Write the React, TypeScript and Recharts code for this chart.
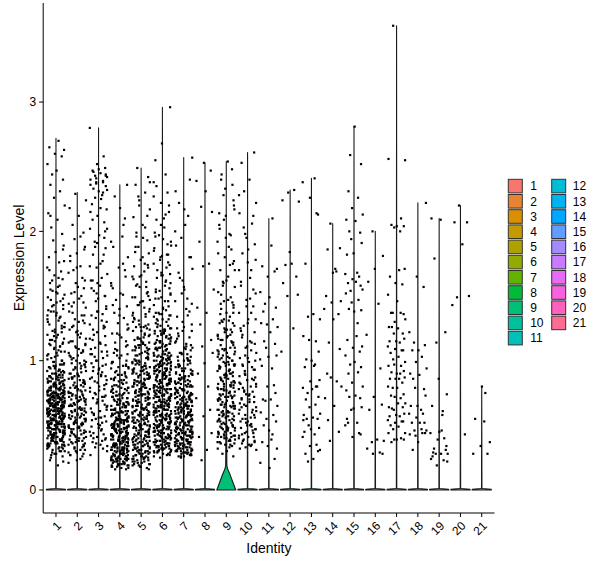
import { Legend, Scatter, ScatterChart, XAxis, YAxis } from "recharts"

// identities shown on the x axis
const GROUPS = ["1", "2", "3", "4", "5", "6", "7", "8", "9", "10", "11", "12", "13", "14", "15", "16", "17", "18", "19", "20", "21"]

const COLORS = [
  "#F8766D", "#EA8331", "#DA8F00", "#C59900", "#ADA200", "#93AA00", "#62B200",
  "#00BA38", "#00BF76", "#00C19C", "#00C0B8", "#00BCD6", "#00B4EF", "#00A6FF",
  "#619CFF", "#A58AFF", "#C77CFF", "#E76BF3", "#F862DF", "#FF62BE", "#FF6C93",
]

// top of each violin (highest expression in the group)
const MAX_VALUES = [2.72, 2.30, 2.80, 2.36, 2.49, 2.96, 2.57, 2.53, 2.54, 2.61, 2.10, 2.32, 2.41, 2.06, 2.81, 2.00, 3.59, 2.22, 2.10, 2.20, 0.80]

const Y_TICKS = [0, 1, 2, 3]

// violin outline: [value, half width] -- every group has its spike at zero
const VIOLIN_FLAT = [[0, 0.45], [0.006, 0.45], [0.012, 0.01]]
// group 9 has a visible cone at the bottom
const VIOLIN_9 = [
  [0, 0.445], [0.031, 0.376], [0.062, 0.305], [0.093, 0.235], [0.124, 0.165],
  [0.155, 0.085], [0.17, 0.05], [0.19, 0.028], [0.3, 0.022], [0.5, 0.018],
  [0.67, 0.012], [1.0, 0.006], [1.5, 0.003],
]

// expression values of the cells above zero, per identity (spread of the tail)
const G1 = [2.70, 2.65, 2.63, 2.60, 2.58, 2.52, 2.47, 2.44, 2.40, 2.36, 2.31, 2.26, 2.20, 2.14, 2.09, 2.03, 1.98, 1.93, 1.89, 1.84, 1.80, 1.76, 1.72, 1.69, 1.66, 1.63, 1.60, 1.57, 1.54, 1.51, 1.49, 1.46, 1.43, 1.40, 1.38, 1.35, 1.33, 1.31, 1.28, 1.26, 1.24, 1.22, 1.20, 1.18, 1.16, 1.14, 1.12, 1.11, 1.09, 1.07, 1.05, 1.04, 1.02, 1.00, 0.99, 0.97, 0.96, 0.95, 0.93, 0.92, 0.91, 0.90, 0.89, 0.88, 0.87, 0.86, 0.85, 0.84, 0.83, 0.82, 0.81, 0.80, 0.79, 0.79, 0.78, 0.77, 0.76, 0.75, 0.75, 0.74, 0.73, 0.72, 0.72, 0.71, 0.70, 0.69, 0.69, 0.68, 0.67, 0.67, 0.66, 0.65, 0.65, 0.64, 0.63, 0.63, 0.62, 0.61, 0.61, 0.60, 0.59, 0.59, 0.58, 0.57, 0.57, 0.56, 0.55, 0.55, 0.54, 0.53, 0.53, 0.52, 0.51, 0.51, 0.50, 0.49, 0.48, 0.48, 0.47, 0.46, 0.45, 0.45, 0.44, 0.43, 0.42, 0.41, 0.40, 0.39, 0.38, 0.37, 0.36, 0.35, 0.33, 0.32, 0.30, 0.28, 0.26, 0.23, 0.19]
const G2 = [2.29, 2.24, 2.18, 2.12, 2.05, 1.99, 1.94, 1.88, 1.83, 1.77, 1.73, 1.68, 1.64, 1.60, 1.56, 1.52, 1.48, 1.45, 1.41, 1.38, 1.35, 1.32, 1.29, 1.26, 1.23, 1.21, 1.18, 1.15, 1.13, 1.10, 1.08, 1.06, 1.04, 1.02, 1.00, 0.98, 0.96, 0.94, 0.92, 0.90, 0.88, 0.87, 0.85, 0.83, 0.82, 0.80, 0.79, 0.77, 0.76, 0.74, 0.73, 0.71, 0.70, 0.69, 0.67, 0.66, 0.65, 0.63, 0.62, 0.61, 0.60, 0.58, 0.57, 0.56, 0.55, 0.53, 0.52, 0.51, 0.50, 0.48, 0.47, 0.46, 0.45, 0.43, 0.42, 0.41, 0.39, 0.38, 0.36, 0.35, 0.33, 0.31, 0.29, 0.27, 0.24, 0.21]
const G3 = [2.80, 2.58, 2.52, 2.49, 2.47, 2.45, 2.43, 2.42, 2.40, 2.38, 2.37, 2.35, 2.33, 2.31, 2.28, 2.25, 2.21, 2.17, 2.12, 2.07, 2.02, 1.97, 1.92, 1.87, 1.82, 1.77, 1.72, 1.67, 1.62, 1.58, 1.54, 1.50, 1.46, 1.42, 1.38, 1.35, 1.31, 1.28, 1.25, 1.22, 1.19, 1.16, 1.13, 1.10, 1.07, 1.05, 1.02, 1.00, 0.97, 0.95, 0.93, 0.91, 0.89, 0.87, 0.85, 0.83, 0.81, 0.79, 0.77, 0.75, 0.73, 0.71, 0.69, 0.67, 0.65, 0.63, 0.61, 0.59, 0.57, 0.55, 0.53, 0.51, 0.49, 0.47, 0.45, 0.43, 0.41, 0.39, 0.37, 0.35, 0.33, 0.30, 0.27]
const G4 = [2.36, 2.27, 2.18, 2.05, 1.96, 1.88, 1.80, 1.72, 1.65, 1.58, 1.52, 1.47, 1.42, 1.37, 1.33, 1.29, 1.25, 1.21, 1.18, 1.14, 1.11, 1.08, 1.05, 1.02, 0.99, 0.96, 0.94, 0.91, 0.89, 0.87, 0.85, 0.83, 0.81, 0.79, 0.77, 0.75, 0.73, 0.71, 0.69, 0.67, 0.66, 0.64, 0.62, 0.61, 0.59, 0.58, 0.57, 0.55, 0.54, 0.53, 0.52, 0.51, 0.50, 0.49, 0.48, 0.47, 0.46, 0.45, 0.44, 0.43, 0.42, 0.41, 0.40, 0.39, 0.39, 0.38, 0.37, 0.36, 0.36, 0.35, 0.34, 0.33, 0.33, 0.32, 0.31, 0.30, 0.30, 0.29, 0.28, 0.28, 0.27, 0.26, 0.26, 0.25, 0.24, 0.24, 0.23, 0.22, 0.21, 0.20, 0.19, 0.18, 0.17, 0.16]
const G5 = [2.49, 2.42, 2.36, 2.30, 2.24, 2.17, 2.11, 2.05, 1.99, 1.93, 1.88, 1.83, 1.78, 1.73, 1.69, 1.65, 1.61, 1.57, 1.53, 1.49, 1.46, 1.43, 1.40, 1.37, 1.34, 1.31, 1.28, 1.26, 1.23, 1.21, 1.18, 1.16, 1.14, 1.12, 1.10, 1.08, 1.06, 1.04, 1.02, 1.00, 0.98, 0.97, 0.95, 0.93, 0.92, 0.90, 0.89, 0.87, 0.86, 0.84, 0.83, 0.82, 0.80, 0.79, 0.78, 0.76, 0.75, 0.74, 0.73, 0.71, 0.70, 0.69, 0.68, 0.67, 0.65, 0.64, 0.63, 0.62, 0.61, 0.60, 0.59, 0.57, 0.56, 0.55, 0.54, 0.53, 0.52, 0.51, 0.50, 0.49, 0.48, 0.47, 0.46, 0.45, 0.44, 0.43, 0.42, 0.41, 0.40, 0.39, 0.38, 0.37, 0.36, 0.35, 0.34, 0.33, 0.32, 0.31, 0.30, 0.29, 0.28, 0.27, 0.26, 0.25, 0.24, 0.22, 0.20, 0.18]
const G6 = [2.96, 2.68, 2.55, 2.44, 2.38, 2.30, 2.22, 2.15, 2.09, 2.03, 1.97, 1.92, 1.87, 1.82, 1.78, 1.74, 1.70, 1.66, 1.62, 1.58, 1.55, 1.52, 1.49, 1.46, 1.43, 1.40, 1.37, 1.35, 1.32, 1.30, 1.27, 1.25, 1.23, 1.21, 1.19, 1.17, 1.15, 1.13, 1.11, 1.09, 1.08, 1.06, 1.04, 1.03, 1.01, 1.00, 0.98, 0.97, 0.96, 0.94, 0.93, 0.92, 0.91, 0.89, 0.88, 0.87, 0.86, 0.85, 0.84, 0.83, 0.82, 0.81, 0.80, 0.79, 0.78, 0.77, 0.76, 0.75, 0.74, 0.73, 0.73, 0.72, 0.71, 0.70, 0.69, 0.68, 0.68, 0.67, 0.66, 0.65, 0.64, 0.64, 0.63, 0.62, 0.61, 0.61, 0.60, 0.59, 0.58, 0.58, 0.57, 0.56, 0.55, 0.55, 0.54, 0.53, 0.52, 0.52, 0.51, 0.50, 0.49, 0.49, 0.48, 0.47, 0.46, 0.46, 0.45, 0.44, 0.43, 0.42, 0.42, 0.41, 0.40, 0.39, 0.38, 0.37, 0.36, 0.35, 0.34, 0.33, 0.32, 0.31, 0.30, 0.29, 0.27, 0.25]
const G7 = [2.57, 2.31, 2.12, 1.95, 1.80, 1.68, 1.57, 1.48, 1.40, 1.34, 1.28, 1.23, 1.18, 1.14, 1.10, 1.06, 1.03, 1.00, 0.97, 0.94, 0.92, 0.90, 0.88, 0.86, 0.84, 0.82, 0.80, 0.78, 0.77, 0.75, 0.74, 0.72, 0.71, 0.70, 0.68, 0.67, 0.66, 0.65, 0.64, 0.63, 0.62, 0.61, 0.60, 0.59, 0.58, 0.57, 0.56, 0.55, 0.54, 0.53, 0.52, 0.51, 0.50, 0.49, 0.48, 0.47, 0.46, 0.45, 0.45, 0.44, 0.43, 0.42, 0.41, 0.40, 0.40, 0.39, 0.38, 0.37, 0.36, 0.36, 0.35, 0.34, 0.33, 0.32, 0.31, 0.30, 0.29, 0.28, 0.27, 0.26]
const G8 = [2.53, 2.47, 2.39, 2.31, 2.19, 2.15, 1.92, 1.75, 1.73, 1.55, 1.41, 1.37, 1.28, 1.16, 1.11, 1.06, 0.98, 0.90, 0.80, 0.71, 0.62, 0.57, 0.44, 0.41, 0.31, 0.23]
const G9 = [2.54, 2.44, 2.36, 2.28, 2.20, 2.12, 2.05, 1.98, 1.92, 1.86, 1.80, 1.75, 1.70, 1.65, 1.61, 1.57, 1.53, 1.49, 1.46, 1.43, 1.40, 1.37, 1.34, 1.31, 1.29, 1.27, 1.24, 1.22, 1.20, 1.18, 1.16, 1.14, 1.12, 1.10, 1.08, 1.07, 1.05, 1.03, 1.02, 1.00, 0.99, 0.97, 0.96, 0.94, 0.93, 0.92, 0.90, 0.89, 0.88, 0.87, 0.86, 0.84, 0.83, 0.82, 0.81, 0.80, 0.79, 0.78, 0.77, 0.76, 0.75, 0.74, 0.73, 0.72, 0.71, 0.70, 0.69, 0.68, 0.67, 0.66, 0.65, 0.64, 0.63, 0.62, 0.61, 0.60, 0.59, 0.58, 0.57, 0.56, 0.55, 0.54, 0.53, 0.52, 0.51, 0.50, 0.49, 0.48, 0.47, 0.46, 0.45, 0.44, 0.43, 0.42, 0.41, 0.40, 0.39, 0.38, 0.37, 0.36, 0.35, 0.34, 0.32, 0.30, 0.28, 0.26]
const G10 = [2.61, 2.53, 2.40, 2.31, 2.22, 2.14, 2.06, 1.98, 1.90, 1.83, 1.76, 1.70, 1.64, 1.58, 1.52, 1.47, 1.42, 1.37, 1.32, 1.27, 1.22, 1.18, 1.14, 1.10, 1.06, 1.02, 0.99, 0.96, 0.93, 0.90, 0.87, 0.85, 0.82, 0.80, 0.78, 0.76, 0.74, 0.72, 0.70, 0.68, 0.66, 0.64, 0.62, 0.60, 0.58, 0.56, 0.55, 0.53, 0.51, 0.50, 0.48, 0.47, 0.45, 0.44, 0.42, 0.41, 0.39, 0.38, 0.36, 0.35, 0.33, 0.31]
const G11 = [2.10, 1.89, 1.73, 1.71, 1.65, 1.69, 1.53, 1.49, 1.44, 1.41, 1.38, 1.32, 1.28, 1.26, 1.29, 1.22, 1.15, 1.13, 1.10, 1.04, 1.03, 0.96, 0.94, 1.01, 0.81, 0.80, 0.75, 0.70, 0.70, 0.69, 0.65, 0.60, 0.58, 0.55, 0.53, 0.50, 0.46, 0.43, 0.39, 0.37, 0.32, 0.34, 0.24, 0.21, 0.17]
const G12 = [2.32, 2.30, 2.23, 2.24, 1.75, 1.74, 1.65, 1.50, 1.51, 1.84, 1.60, 1.25, 1.07]
const G13 = [2.41, 2.38, 2.14, 2.26, 2.13, 1.75, 1.36, 1.34, 1.32, 1.19, 1.15, 1.16, 1.07, 1.01, 1.00, 0.97, 0.96, 0.95, 0.85, 0.84, 0.80, 0.79, 0.78, 0.75, 0.72, 0.70, 0.66, 0.64, 0.59, 0.58, 0.56, 0.55, 0.55, 0.50, 0.48, 0.47, 0.45, 0.43, 0.41, 0.35, 0.34, 0.30, 0.28, 0.24, 0.22, 0.31, 0.54, 0.80]
const G14 = [2.06, 1.87, 1.86, 1.68, 1.69, 1.71, 1.50, 1.46, 1.45, 1.36, 1.40, 1.32, 1.14, 1.09, 0.90, 0.84, 0.87, 0.80, 0.71, 0.65, 0.54, 0.45, 0.38]
const G15 = [2.81, 2.59, 2.52, 2.31, 2.26, 2.18, 2.13, 2.09, 2.08, 2.00, 1.99, 1.94, 1.91, 1.83, 1.82, 1.68, 1.67, 1.65, 1.63, 1.58, 1.60, 1.61, 1.54, 1.55, 1.52, 1.47, 1.45, 1.39, 1.40, 1.38, 1.29, 1.19, 1.16, 1.11, 1.10, 1.07, 1.04, 0.99, 0.97, 0.95, 0.90, 0.91, 0.83, 0.80, 0.77, 0.73, 0.72, 0.71, 0.62, 0.64, 0.63, 0.55, 0.52, 0.50, 0.44, 0.41, 0.43, 0.52]
const G16 = [2.00, 1.81, 1.71, 1.61, 1.44, 1.20, 0.94, 0.72, 0.66, 0.62, 0.39, 0.37, 0.38, 0.32, 0.29, 0.28, 0.28]
const G17 = [3.59, 2.55, 2.56, 2.10, 2.03, 2.04, 2.05, 2.04, 2.00, 1.70, 1.65, 1.71, 1.60, 1.59, 1.51, 1.46, 1.37, 1.36, 1.37, 1.37, 1.30, 1.32, 1.26, 1.25, 1.26, 1.21, 1.21, 1.17, 1.15, 1.15, 1.14, 1.11, 1.08, 1.09, 1.08, 1.06, 1.03, 1.01, 0.99, 0.96, 0.96, 0.97, 0.92, 0.91, 0.90, 0.90, 0.86, 0.86, 0.87, 0.86, 0.83, 0.80, 0.79, 0.79, 0.74, 0.73, 0.71, 0.72, 0.67, 0.64, 0.67, 0.63, 0.64, 0.62, 0.59, 0.58, 0.57, 0.57, 0.54, 0.53, 0.52, 0.53, 0.50, 0.49, 0.47, 0.44, 0.44, 0.40, 0.39, 0.39, 0.37, 0.39]
const G18 = [2.22, 1.65, 1.57, 1.22, 1.08, 1.14, 1.12, 1.08, 1.03, 0.99, 0.94, 0.90, 0.89, 0.86, 0.78, 0.79, 0.73, 0.65, 0.65, 0.62, 0.59, 0.59, 0.56, 0.52, 0.52, 0.52, 0.46, 0.46, 0.43, 0.44, 0.42, 0.44, 0.31, 0.37, 0.47]
const G19 = [2.10, 2.09, 1.79, 1.22, 1.14, 0.74, 0.86, 0.65, 0.58, 0.44, 0.40, 0.39, 0.31, 0.29, 0.28, 0.28, 0.28, 0.24, 0.23, 0.19, 0.34, 0.32, 0.45, 0.61, 0.46, 0.26, 0.22]
const G20 = [2.20, 2.07, 2.07, 1.90, 1.49, 1.50, 1.43, 0.43]
const G21 = [0.80, 0.75, 0.53, 0.55, 0.37, 0.34, 0.28, 0.28]

// the dense cores of the big identities
const G1_CORE = [0.31, 0.34, 0.36, 0.38, 0.40, 0.42, 0.43, 0.44, 0.46, 0.47, 0.48, 0.49, 0.50, 0.51, 0.52, 0.53, 0.54, 0.55, 0.56, 0.57, 0.58, 0.59, 0.60, 0.61, 0.62, 0.63, 0.64, 0.65, 0.66, 0.67, 0.68, 0.69, 0.70, 0.71, 0.72, 0.73, 0.74, 0.75, 0.76, 0.77, 0.78, 0.80, 0.82, 0.84, 0.86, 0.89, 0.92, 0.95, 0.98, 1.03, 0.33, 0.35, 0.37, 0.39, 0.41, 0.43, 0.45, 0.47, 0.48, 0.50, 0.51, 0.52, 0.54, 0.55, 0.56, 0.58, 0.59, 0.60, 0.62, 0.63, 0.64, 0.66, 0.67, 0.68, 0.70, 0.71, 0.73, 0.74, 0.76, 0.77, 0.79, 0.81, 0.83, 0.85, 0.88, 0.91, 0.94, 0.97, 1.01, 1.06, 0.29, 0.32, 0.36, 0.39, 0.42, 0.44, 0.46, 0.49, 0.51, 0.53, 0.55, 0.57, 0.58, 0.60, 0.61, 0.63, 0.65, 0.66, 0.68, 0.69, 0.71, 0.72, 0.74, 0.76, 0.78, 0.81, 0.84, 0.87, 0.90, 0.93, 1.08, 1.13, 1.17, 1.22, 1.27, 1.32, 1.37, 1.42, 1.48, 1.55, 1.11, 1.19, 1.29, 1.39, 1.52, 0.27, 0.35, 0.41, 0.45, 0.50, 0.53, 0.56, 0.59, 0.62, 0.65, 0.68, 0.70, 0.73, 0.75, 0.79, 0.83, 0.87, 0.96]
const G1_CORE2 = [0.22, 0.25, 0.28, 0.30, 0.32, 0.34, 0.35, 0.37, 0.38, 0.40, 0.41, 0.42, 0.44, 0.45, 0.46, 0.47, 0.49, 0.50, 0.51, 0.52, 0.53, 0.54, 0.56, 0.57, 0.58, 0.59, 0.60, 0.61, 0.62, 0.64, 0.65, 0.66, 0.67, 0.68, 0.69, 0.70, 0.72, 0.73, 0.74, 0.75, 0.77, 0.78, 0.79, 0.81, 0.82, 0.84, 0.86, 0.88, 0.90, 0.92, 0.94, 0.97, 0.99, 0.30, 0.33, 0.36, 0.38, 0.40, 0.43, 0.45, 0.47, 0.49, 0.51, 0.53, 0.55, 0.57, 0.59, 0.61, 0.63, 0.65, 0.67, 0.69, 0.71, 0.73, 0.75, 0.77, 0.79, 0.82, 0.85, 0.88, 0.91, 0.95, 1.00, 0.34, 0.37, 0.41, 0.44, 0.48, 0.51, 0.54, 0.57, 0.60, 0.63, 0.66, 0.70, 0.73, 0.77, 0.80, 0.84, 0.89, 1.04, 1.07, 1.10, 1.13, 1.16, 1.20, 1.23, 1.26, 1.30, 1.34, 1.38, 1.43, 1.47, 1.53, 1.58, 1.64, 1.70, 1.77, 1.15, 1.25, 1.35, 1.45, 1.62, 1.86, 2.12, 0.39, 0.43, 0.46, 0.50, 0.52, 0.55, 0.58, 0.61, 0.64, 0.67, 0.70, 0.72, 0.76, 0.80, 0.83, 0.87]
const G2_CORE = [0.26, 0.30, 0.34, 0.37, 0.40, 0.43, 0.45, 0.48, 0.50, 0.53, 0.55, 0.57, 0.59, 0.62, 0.64, 0.66, 0.68, 0.71, 0.73, 0.75, 0.78, 0.81, 0.84, 0.87, 0.91, 0.95, 0.99, 1.04, 1.09, 1.15, 0.28, 0.32, 0.36, 0.39, 0.42, 0.46, 0.49, 0.52, 0.54, 0.58, 0.61, 0.63, 0.67, 0.70, 0.72, 0.76, 0.79, 0.83, 0.86, 0.90, 0.94, 0.98, 1.03, 1.12, 1.22, 1.31, 1.44, 1.57, 1.70, 1.86, 0.44, 0.51, 0.56, 0.60, 0.65, 0.69, 0.74, 0.80, 0.88, 0.97]
const G2_CORE2 = [0.23, 0.27, 0.31, 0.35, 0.38, 0.41, 0.44, 0.47, 0.49, 0.52, 0.54, 0.56, 0.59, 0.61, 0.63, 0.65, 0.68, 0.70, 0.72, 0.75, 0.77, 0.80, 0.83, 0.86, 0.89, 0.93, 0.97, 1.01, 1.06, 1.11, 1.17, 1.24, 1.30, 1.37, 1.45, 1.53, 1.62, 1.72, 1.81, 1.96, 0.29, 0.33, 0.37, 0.40, 0.45, 0.48, 0.51, 0.55, 0.58, 0.62, 0.66, 0.69, 0.73, 0.77, 0.81, 0.85, 0.90, 0.95, 1.00, 1.07, 1.14, 1.20, 1.27, 1.35, 1.42, 1.50]
const G3_CORE = [0.32, 0.36, 0.40, 0.44, 0.48, 0.52, 0.56, 0.60, 0.64, 0.68, 0.72, 0.76, 0.80, 0.84, 0.88, 0.92, 0.96, 1.00, 1.04, 1.09, 1.14, 1.20, 1.26, 1.33, 1.40, 1.48, 1.56, 1.64, 1.73, 1.82, 1.91, 2.00, 2.09, 2.18, 2.26, 2.32, 2.36, 2.39, 2.41, 2.44, 2.46, 2.48, 0.38, 0.46, 0.54, 0.62, 0.70, 0.78, 0.86, 0.94, 1.03, 1.12, 1.24, 1.36, 1.52]
const G3_CORE2 = [0.34, 0.42, 0.50, 0.58, 0.66, 0.74, 0.82, 0.90, 0.98, 1.07, 1.17, 1.27, 1.38, 1.50, 1.62, 1.75, 1.88, 2.02, 2.15, 2.30, 2.38, 2.43, 0.40, 0.56, 0.72, 0.88, 1.05, 1.30, 1.60, 1.95]
const G4_CORE = [0.16, 0.18, 0.19, 0.20, 0.21, 0.22, 0.23, 0.24, 0.25, 0.26, 0.27, 0.28, 0.29, 0.30, 0.31, 0.32, 0.33, 0.34, 0.35, 0.36, 0.37, 0.38, 0.39, 0.40, 0.41, 0.42, 0.43, 0.44, 0.45, 0.46, 0.47, 0.48, 0.49, 0.50, 0.51, 0.52, 0.53, 0.54, 0.55, 0.56, 0.57, 0.58, 0.60, 0.62, 0.64, 0.66, 0.68, 0.70, 0.73, 0.76, 0.17, 0.19, 0.21, 0.23, 0.25, 0.27, 0.29, 0.31, 0.33, 0.35, 0.37, 0.39, 0.41, 0.43, 0.45, 0.47, 0.49, 0.51, 0.53, 0.55, 0.57, 0.59, 0.61, 0.63, 0.65, 0.68, 0.71, 0.74, 0.78, 0.82, 0.86, 0.90, 0.95, 1.00, 1.06, 0.20, 0.22, 0.24, 0.26, 0.28, 0.30, 0.32, 0.34, 0.36, 0.38, 0.40, 0.42, 0.44, 0.46, 0.48, 0.50, 0.53, 0.56, 0.59, 0.62, 0.66, 0.70, 0.75, 0.80, 0.85, 0.91, 0.97, 1.04, 1.12, 1.20, 0.23, 0.27, 0.31, 0.35, 0.39, 0.44, 0.49, 0.54, 0.60, 0.67]
const G4_CORE2 = [0.18, 0.20, 0.22, 0.24, 0.26, 0.28, 0.30, 0.32, 0.34, 0.36, 0.38, 0.40, 0.42, 0.44, 0.46, 0.48, 0.50, 0.52, 0.54, 0.56, 0.58, 0.60, 0.62, 0.64, 0.66, 0.68, 0.70, 0.72, 0.74, 0.76, 0.78, 0.80, 0.83, 0.86, 0.89, 0.92, 0.95, 0.98, 0.21, 0.25, 0.29, 0.33, 0.37, 0.41, 0.45, 0.49, 0.53, 0.57, 0.61, 0.65, 0.69, 0.73, 0.77, 0.81, 0.85, 0.89, 0.94, 0.99, 1.04, 1.09, 1.15, 1.21, 1.28, 1.35, 1.43, 1.51, 1.60, 1.70, 0.19, 0.23, 0.27, 0.31, 0.35, 0.39, 0.43, 0.47, 0.51, 0.55, 0.59, 0.63, 0.67, 0.71, 0.75, 0.79, 0.84, 0.88, 0.24, 0.30, 0.36, 0.42, 0.48, 0.54, 0.60, 0.66, 0.72, 0.79, 0.87, 0.96, 1.08, 1.24, 1.40, 1.56, 1.75, 1.92, 2.10]
const G5_CORE = [0.17, 0.19, 0.21, 0.23, 0.25, 0.27, 0.29, 0.31, 0.33, 0.35, 0.37, 0.39, 0.41, 0.43, 0.45, 0.47, 0.49, 0.51, 0.53, 0.55, 0.57, 0.59, 0.61, 0.63, 0.65, 0.67, 0.69, 0.71, 0.73, 0.75, 0.77, 0.79, 0.81, 0.83, 0.85, 0.87, 0.89, 0.91, 0.93, 0.95, 0.98, 1.01, 1.04, 1.07, 1.10, 0.20, 0.24, 0.28, 0.32, 0.36, 0.40, 0.44, 0.48, 0.52, 0.56, 0.60, 0.64, 0.68, 0.72, 0.76, 0.80, 0.84, 0.88, 0.92, 0.96, 1.00, 1.05, 1.10, 1.15, 1.20, 1.26, 1.32, 1.38, 1.45, 1.52, 0.22, 0.26, 0.30, 0.34, 0.38, 0.42, 0.46, 0.50, 0.54, 0.58, 0.62, 0.66, 0.70, 0.74, 0.78, 0.82, 0.86, 0.90, 0.94, 0.99, 1.03, 1.08, 1.13, 1.18, 1.24, 1.30, 1.36, 1.43, 1.50, 1.58, 1.66, 1.75, 0.25, 0.33, 0.41, 0.49, 0.57, 0.65, 0.73, 0.81, 0.89, 0.97, 1.12, 1.28, 1.47, 1.63, 1.80, 1.96, 2.12, 2.27]
const G5_CORE2 = [0.16, 0.18, 0.20, 0.22, 0.24, 0.26, 0.28, 0.30, 0.32, 0.34, 0.36, 0.38, 0.40, 0.42, 0.44, 0.46, 0.48, 0.50, 0.52, 0.54, 0.56, 0.58, 0.60, 0.62, 0.64, 0.66, 0.68, 0.70, 0.72, 0.74, 0.76, 0.78, 0.80, 0.82, 0.84, 0.86, 0.88, 0.90, 0.92, 0.94, 0.96, 0.99, 1.02, 1.05, 1.08, 1.11, 1.14, 1.17, 1.20, 1.23, 1.27, 0.19, 0.23, 0.27, 0.31, 0.35, 0.39, 0.43, 0.47, 0.51, 0.55, 0.59, 0.63, 0.67, 0.71, 0.75, 0.79, 0.83, 0.87, 0.91, 0.95, 1.00, 1.06, 1.12, 1.19, 1.26, 1.33, 1.41, 1.49, 1.57, 1.65, 1.74, 1.84, 1.95, 0.21, 0.29, 0.37, 0.45, 0.53, 0.61, 0.69, 0.77, 0.85, 0.93, 1.01, 1.09, 1.17, 1.25, 1.35, 1.46, 1.59, 1.72, 1.88, 2.03, 2.20, 2.38, 0.26, 0.34, 0.42, 0.50, 0.58, 0.66, 0.74, 0.82, 0.90, 0.98]
const G6_CORE = [0.27, 0.29, 0.31, 0.33, 0.35, 0.37, 0.39, 0.41, 0.43, 0.45, 0.47, 0.49, 0.51, 0.53, 0.55, 0.57, 0.59, 0.61, 0.63, 0.65, 0.67, 0.69, 0.71, 0.73, 0.75, 0.77, 0.79, 0.81, 0.83, 0.85, 0.87, 0.89, 0.91, 0.93, 0.95, 0.97, 0.99, 1.01, 1.03, 1.05, 1.08, 1.11, 1.14, 1.17, 1.20, 0.28, 0.30, 0.32, 0.34, 0.36, 0.38, 0.40, 0.42, 0.44, 0.46, 0.48, 0.50, 0.52, 0.54, 0.56, 0.58, 0.60, 0.62, 0.64, 0.66, 0.68, 0.70, 0.72, 0.74, 0.76, 0.78, 0.80, 0.82, 0.84, 0.86, 0.88, 0.90, 0.92, 0.94, 0.96, 0.98, 1.00, 1.02, 1.04, 1.07, 1.10, 1.13, 1.16, 1.19, 1.23, 0.31, 0.35, 0.39, 0.43, 0.47, 0.51, 0.55, 0.59, 0.63, 0.67, 0.71, 0.75, 0.79, 0.83, 0.87, 0.91, 0.95, 0.99, 1.04, 1.09, 1.14, 1.20, 1.26, 1.32, 1.39, 1.46, 1.53, 1.60, 1.68, 1.76, 1.85, 1.94, 0.33, 0.41, 0.49, 0.57, 0.65, 0.73, 0.81, 0.89, 0.97, 1.06, 1.15, 1.25, 1.36, 1.48, 1.61, 1.75, 1.90, 2.05, 2.20, 2.35, 0.37, 0.45, 0.53, 0.61, 0.69, 0.77, 0.85, 0.93, 1.01, 1.12, 1.24, 1.37, 1.51, 1.66, 1.82]
const G6_CORE2 = [0.26, 0.28, 0.30, 0.32, 0.34, 0.36, 0.38, 0.40, 0.42, 0.44, 0.46, 0.48, 0.50, 0.52, 0.54, 0.56, 0.58, 0.60, 0.62, 0.64, 0.66, 0.68, 0.70, 0.72, 0.74, 0.76, 0.78, 0.80, 0.82, 0.84, 0.86, 0.88, 0.90, 0.92, 0.94, 0.96, 0.98, 1.00, 1.02, 1.04, 1.06, 1.09, 1.12, 1.15, 1.18, 1.21, 1.24, 1.28, 1.32, 1.36, 0.29, 0.33, 0.37, 0.41, 0.45, 0.49, 0.53, 0.57, 0.61, 0.65, 0.69, 0.73, 0.77, 0.81, 0.85, 0.89, 0.93, 0.97, 1.01, 1.05, 1.10, 1.15, 1.21, 1.27, 1.34, 1.41, 1.48, 1.56, 1.64, 1.72, 1.80, 1.89, 1.99, 2.10, 0.30, 0.34, 0.38, 0.42, 0.46, 0.50, 0.54, 0.58, 0.62, 0.66, 0.70, 0.74, 0.78, 0.82, 0.86, 0.90, 0.94, 0.98, 1.03, 1.08, 1.13, 1.18, 1.23, 1.29, 1.35, 0.32, 0.40, 0.48, 0.56, 0.64, 0.72, 0.80, 0.88, 0.96, 1.04, 1.13, 1.22, 1.31, 1.42, 1.54, 1.67, 1.81, 1.96, 2.13, 2.27, 0.36, 0.44, 0.52, 0.60, 0.68, 0.76, 0.84, 0.92, 1.00, 1.10]
const G7_CORE = [0.26, 0.28, 0.29, 0.30, 0.31, 0.32, 0.33, 0.34, 0.35, 0.36, 0.37, 0.38, 0.39, 0.40, 0.41, 0.42, 0.43, 0.44, 0.45, 0.46, 0.47, 0.48, 0.49, 0.50, 0.51, 0.52, 0.53, 0.54, 0.55, 0.56, 0.57, 0.58, 0.59, 0.60, 0.61, 0.62, 0.63, 0.64, 0.65, 0.66, 0.67, 0.68, 0.69, 0.70, 0.71, 0.72, 0.73, 0.74, 0.75, 0.76, 0.78, 0.80, 0.82, 0.84, 0.86, 0.27, 0.30, 0.32, 0.34, 0.36, 0.38, 0.40, 0.42, 0.44, 0.46, 0.48, 0.50, 0.52, 0.54, 0.56, 0.58, 0.60, 0.62, 0.64, 0.66, 0.68, 0.70, 0.72, 0.74, 0.77, 0.80, 0.83, 0.86, 0.89, 0.93, 0.97, 1.01, 1.05, 1.10, 1.15, 0.29, 0.33, 0.37, 0.41, 0.45, 0.49, 0.53, 0.57, 0.61, 0.65, 0.69, 0.73, 0.77, 0.81, 0.85, 0.90, 0.95, 1.00, 1.06, 1.12, 1.19, 1.26, 0.31, 0.39, 0.47, 0.55, 0.63, 0.71, 0.79, 0.87, 0.96, 1.08, 1.21, 1.35, 1.52, 1.71, 1.89, 2.05, 2.22, 2.40]
const G7_CORE2 = [0.25, 0.27, 0.29, 0.31, 0.33, 0.35, 0.37, 0.39, 0.41, 0.43, 0.45, 0.47, 0.49, 0.51, 0.53, 0.55, 0.57, 0.59, 0.61, 0.63, 0.65, 0.67, 0.69, 0.71, 0.73, 0.75, 0.77, 0.79, 0.81, 0.83, 0.85, 0.87, 0.89, 0.91, 0.94, 0.97, 1.00, 0.26, 0.30, 0.34, 0.38, 0.42, 0.46, 0.50, 0.54, 0.58, 0.62, 0.66, 0.70, 0.74, 0.78, 0.82, 0.86, 0.90, 0.95, 1.00, 1.05, 1.11, 1.17, 1.23, 1.30, 1.38, 1.46, 1.55, 1.64, 0.28, 0.32, 0.36, 0.40, 0.44, 0.48, 0.52, 0.56, 0.60, 0.64, 0.68, 0.72, 0.76, 0.80, 0.84, 0.88, 0.92, 0.98, 1.03, 1.09, 0.35, 0.43, 0.51, 0.59, 0.67, 0.75, 0.83, 0.92, 1.02, 1.13, 1.25, 1.44, 1.62, 1.80, 2.00, 2.17]
const G9_CORE = [0.36, 0.38, 0.40, 0.42, 0.44, 0.46, 0.48, 0.50, 0.52, 0.54, 0.56, 0.58, 0.60, 0.62, 0.64, 0.66, 0.68, 0.70, 0.72, 0.74, 0.76, 0.78, 0.80, 0.82, 0.84, 0.86, 0.88, 0.90, 0.92, 0.94, 0.96, 0.98, 1.00, 1.03, 1.06, 1.09, 1.12, 1.16, 1.20, 1.25, 0.39, 0.43, 0.47, 0.51, 0.55, 0.59, 0.63, 0.67, 0.71, 0.75, 0.79, 0.83, 0.87, 0.91, 0.95, 0.99, 1.04, 1.10, 1.17, 1.24, 1.32, 1.41, 1.51, 1.62, 1.74, 1.88, 2.02, 2.17, 2.33, 2.48, 0.41, 0.49, 0.57, 0.65, 0.73, 0.81, 0.89, 0.97, 1.07, 1.19, 1.31, 1.45, 1.60, 1.77, 1.95, 2.14]
const G9_CORE2 = [0.33, 0.37, 0.41, 0.45, 0.49, 0.53, 0.57, 0.61, 0.65, 0.69, 0.73, 0.77, 0.81, 0.85, 0.89, 0.93, 0.97, 1.01, 1.05, 1.09, 1.14, 1.19, 1.24, 1.30, 1.37, 1.44, 0.35, 0.42, 0.48, 0.54, 0.60, 0.66, 0.72, 0.78, 0.84, 0.90, 0.96, 1.02, 1.08, 1.15, 1.22, 1.29, 1.36, 1.47, 1.58, 1.70, 1.83, 1.97, 2.09, 2.24, 2.40]
const G10_CORE = [0.32, 0.35, 0.38, 0.41, 0.44, 0.47, 0.50, 0.53, 0.56, 0.59, 0.62, 0.65, 0.68, 0.71, 0.74, 0.77, 0.80, 0.83, 0.86, 0.89, 0.93, 0.97, 1.02, 1.08, 1.15, 1.23, 1.32, 1.42, 1.55, 1.70, 1.86, 2.03, 0.37, 0.43, 0.49, 0.55, 0.61, 0.67, 0.73, 0.79, 0.85, 0.92, 1.00, 1.11, 1.25]
const G10_CORE2 = [0.34, 0.40, 0.46, 0.52, 0.58, 0.64, 0.70, 0.76, 0.82, 0.88, 0.95, 1.04, 1.13, 1.20, 1.29, 1.37, 1.48, 1.61, 1.78, 1.95, 2.12, 2.28]

const CELLS = [
  G1.concat(G1_CORE, G1_CORE2), G2.concat(G2_CORE, G2_CORE2), G3.concat(G3_CORE, G3_CORE2),
  G4.concat(G4_CORE, G4_CORE2), G5.concat(G5_CORE, G5_CORE2), G6.concat(G6_CORE, G6_CORE2),
  G7.concat(G7_CORE, G7_CORE2), G8, G9.concat(G9_CORE, G9_CORE2), G10.concat(G10_CORE, G10_CORE2),
  G11, G12, G13, G14, G15, G16, G17, G18, G19, G20, G21,
]

// horizontal jitter offsets (in category units), cycled over the cells
const JITTER = [0.12, -0.31, 0.38, -0.05, 0.27, -0.40, 0.03, -0.18, 0.33, -0.26, 0.19, -0.09, 0.41, -0.36, 0.07, -0.22, 0.29, -0.13, 0.36, -0.02, -0.33, 0.15, -0.41, 0.24, -0.07, 0.31, -0.28, 0.09, -0.16, 0.40, -0.38, 0.21, -0.11, 0.34, -0.24, 0.01, 0.17]

const FONT = "'Liberation Sans', Arial, sans-serif"

const points = CELLS.flatMap((vals, gi) =>
  vals.map((v, k) => ({ x: gi + 1 + JITTER[(k + gi * 11) % JITTER.length], y: v }))
)

const violins = GROUPS.map((_, gi) => {
  const profile = (gi === 8 ? VIOLIN_9 : VIOLIN_FLAT).concat([[MAX_VALUES[gi], 0]])
  const left = profile.map(([y, w]) => ({ x: gi + 1 - w, y }))
  const right = profile.slice().reverse().map(([y, w]) => ({ x: gi + 1 + w, y }))
  return left.concat(right)
})

const violinShape = (color: string) => (props: any) => (
  <polygon
    points={(props.points || []).map((p: any) => `${p.x},${p.y}`).join(" ")}
    fill={color}
    stroke="#1a1a1a"
    strokeWidth={1.1}
    strokeLinejoin="round"
  />
)

const Dot = (props: any) => <rect x={props.cx - 1.1} y={props.cy - 1.1} width={2.2} height={2.2} fill="#000" />

const XTick = (props: any) => {
  const { x, y, payload } = props
  const px = x + 6
  const py = y + 9.5
  return (
    <text x={px} y={py} transform={`rotate(-45, ${px}, ${py})`} textAnchor="end" fontSize={12} fontFamily={FONT} fill="#000">
      {payload.value}
    </text>
  )
}

const LegendBox = () => (
  <svg width={100} height={180} style={{ display: "block" }}>
    {GROUPS.map((g, i) => {
      const col = i < 11 ? 0 : 1
      const row = i < 11 ? i : i - 11
      const top = 9.3 + row * 15.2
      return (
        <g key={g}>
          <rect x={8.3 + col * 43.4} y={top} width={14} height={13.6} fill={COLORS[i]} stroke="#333" strokeWidth={1} />
          <text x={30.2 + col * 42.6} y={top + 11} fontSize={12} fontFamily={FONT} fill="#000">
            {g}
          </text>
        </g>
      )
    })}
  </svg>
)

export default function App() {
  return (
    <div style={{ position: "absolute", left: 0, top: 0, fontFamily: FONT }}>
      <ScatterChart width={600} height={568} margin={{ top: 3, right: 105.5, bottom: 0, left: 0 }}>
        <XAxis
          type="number"
          dataKey="x"
          domain={[0.4, 21.6]}
          ticks={GROUPS.map((_, i) => i + 1)}
          interval={0}
          allowDataOverflow
          height={55}
          tickSize={4}
          tickMargin={0}
          stroke="#000"
          tick={<XTick />}
          tickFormatter={(v) => GROUPS[v - 1]}
          label={{
            content: () => (
              <text x={268.9} y={553} textAnchor="middle" fontSize={14} fontFamily={FONT} fill="#000">
                Identity
              </text>
            ),
          }}
        />
        <YAxis
          type="number"
          dataKey="y"
          domain={[-0.178, 3.766]}
          ticks={Y_TICKS}
          allowDataOverflow
          width={43.2}
          tickSize={4}
          tickMargin={3}
          stroke="#000"
          tick={{ fontSize: 12, fill: "#000", fontFamily: FONT }}
          label={{
            content: () => (
              <text x={24} y={258} transform="rotate(-90, 24, 258)" textAnchor="middle" fontSize={14} fontFamily={FONT} fill="#000">
                Expression Level
              </text>
            ),
          }}
        />
        {violins.map((v, gi) => (
          <Scatter
            key={"violin-" + gi}
            data={v}
            line={violinShape(COLORS[gi])}
            lineType="joint"
            shape={() => <g />}
            isAnimationActive={false}
          />
        ))}
        <Scatter data={points} shape={<Dot />} isAnimationActive={false} />
        <Legend
          layout="horizontal"
          verticalAlign="middle"
          align="center"
          wrapperStyle={{ left: 500, top: 170, width: 100, height: 180 }}
          content={() => <LegendBox />}
        />
      </ScatterChart>
    </div>
  )
}
